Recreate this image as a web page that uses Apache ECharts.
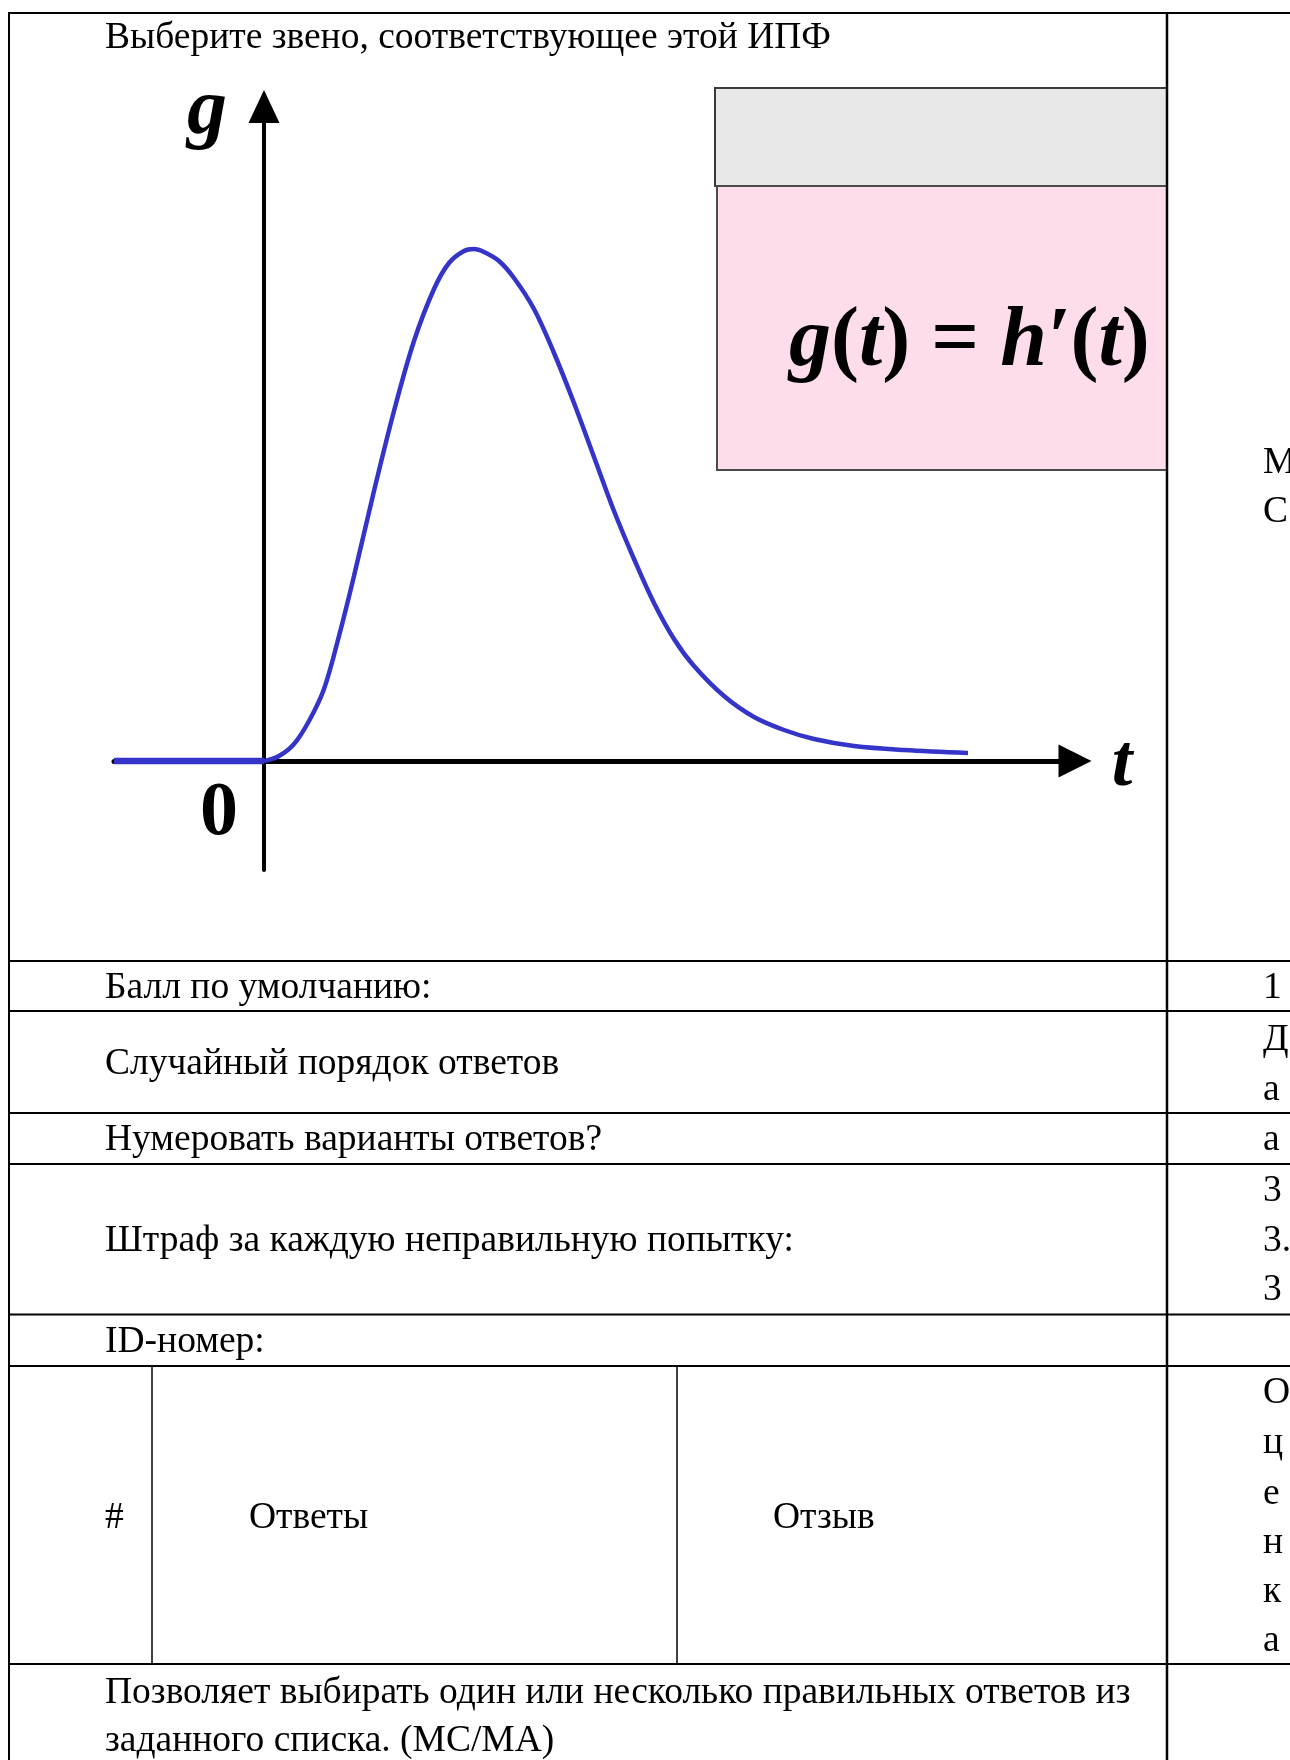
<!DOCTYPE html>
<html>
<head>
<meta charset="utf-8">
<script src="https://cdn.jsdelivr.net/npm/echarts@6/dist/echarts.min.js"></script>
<style>
  html, body { margin: 0; padding: 0; background: #ffffff; }
  #chart { width: 1290px; height: 1760px; }
</style>
</head>
<body>
<div id="chart"></div>
<script>
// ---- data (t, g) ----
const tNeg = [-1.5, 0];
const gNeg = [0, 0];
const tCurve = [0, 0.15, 0.3, 0.45, 0.6, 0.75, 0.9, 1.1, 1.3, 1.5, 1.7, 1.85, 2.0, 2.1, 2.2, 2.35, 2.5, 2.7, 2.9, 3.1, 3.3, 3.5, 3.7, 3.9, 4.1, 4.3, 4.6, 4.9, 5.2, 5.5, 5.9, 6.4, 7.04];
const gCurve = [0, 0.05, 0.17, 0.40, 0.72, 1.25, 1.85, 2.70, 3.50, 4.20, 4.72, 4.98, 5.10, 5.12, 5.09, 5.00, 4.83, 4.52, 4.08, 3.58, 3.04, 2.50, 2.02, 1.58, 1.22, 0.95, 0.65, 0.44, 0.31, 0.22, 0.15, 0.11, 0.08];

// ---- texts ----
const titleText = 'Выберите звено, соответствующее этой ИПФ';
const formulaText = '{i|g}{n|(}{i|t}{n|)}{n| = }{i|h′}{n|(}{i|t}{n|)}';
const rowLabels = ['Балл по умолчанию:', 'Случайный порядок ответов', 'Нумеровать варианты ответов?', 'Штраф за каждую неправильную попытку:', 'ID-номер:'];
const headerCells = ['#', 'Ответы', 'Отзыв'];
const footerLines = ['Позволяет выбирать один или несколько правильных ответов из', 'заданного списка. (MC/MA)'];
const rightChars = ['М', 'С', '1', 'Д', 'а', 'а', '3', '3.', '3', 'О', 'ц', 'е', 'н', 'к', 'а'];

// ---- layout ----
const rowLabelY = [988, 1064, 1140, 1241, 1342];
const rightY = [463, 512, 988, 1040, 1090, 1140, 1191, 1241, 1290, 1393, 1443, 1494, 1543, 1592, 1641];
const rowLinesY = [961, 1011, 1113, 1164, 1314.5, 1366, 1664];
const headerX = [105, 249, 773];
const footerY = [1693, 1741];

const FONT = '37.5px "Liberation Serif", "Times New Roman", serif';
const SERIF = '"Liberation Serif", "Times New Roman", serif';

const graphics = [];
function hline(y, x1, x2, w) {
  graphics.push({ type: 'line', silent: true, z: 10, shape: { x1: x1, y1: y, x2: x2, y2: y }, style: { stroke: '#000', lineWidth: w } });
}
function vline(x, y1, y2, w) {
  graphics.push({ type: 'line', silent: true, z: 10, shape: { x1: x, y1: y1, x2: x, y2: y2 }, style: { stroke: '#000', lineWidth: w } });
}
function text(str, x, y, font, align) {
  graphics.push({ type: 'text', silent: true, z: 12, x: x, y: y, style: { text: str, font: font, fill: '#000', align: align || 'left', verticalAlign: 'middle' } });
}

// formula boxes
graphics.push({ type: 'rect', silent: true, z: 5, shape: { x: 715, y: 88, width: 452, height: 98 }, style: { fill: '#e8e8e8', stroke: '#3a3a3a', lineWidth: 2 } });
graphics.push({ type: 'rect', silent: true, z: 5, shape: { x: 717, y: 186, width: 450, height: 284 }, style: { fill: '#fddcec', stroke: '#4a4a4a', lineWidth: 2 } });
graphics.push({
  type: 'text', silent: true, z: 6, x: 789, y: 343,
  style: {
    text: formulaText, fill: '#000', verticalAlign: 'middle', align: 'left',
    rich: {
      i: { font: 'italic bold 84px ' + SERIF, fill: '#000' },
      n: { font: 'bold 84px ' + SERIF, fill: '#000' }
    }
  }
});

// table lines
hline(13, 8, 1290, 2);
rowLinesY.forEach(function (y) { hline(y, 8, 1290, 2); });
vline(9, 12, 1760, 2);
vline(1167, 12, 1760, 2.5);
vline(152, 1366, 1664, 1.5);
vline(677, 1366, 1664, 1.5);

// table texts
text(titleText, 105, 38, FONT);
rowLabels.forEach(function (s, i) { text(s, 105, rowLabelY[i], FONT); });
headerCells.forEach(function (s, i) { text(s, headerX[i], 1518, FONT); });
footerLines.forEach(function (s, i) { text(s, 105, footerY[i], FONT); });
rightChars.forEach(function (s, i) { text(s, 1263, rightY[i], FONT); });

// axis labels
text('g', 207, 112, 'italic bold 80px ' + SERIF, 'center');
text('t', 1122, 766, 'italic bold 74px ' + SERIF, 'center');
text('0', 219, 814, 'bold 76px ' + SERIF, 'center');

const chart = echarts.init(document.getElementById('chart'), null, { renderer: 'canvas' });
chart.setOption({
  animation: false,
  backgroundColor: '#ffffff',
  grid: { left: 114, right: 215, top: 106.5, bottom: 890 },
  xAxis: {
    type: 'value', min: -1.5, max: 8.11,
    axisLine: { onZero: true, lineStyle: { color: '#000', width: 5 }, symbol: ['none', 'triangle'], symbolSize: [33, 33] },
    axisTick: { show: false }, axisLabel: { show: false }, splitLine: { show: false }
  },
  yAxis: {
    type: 'value', min: -1.09, max: 6.545,
    axisLine: { show: true, onZero: true, lineStyle: { color: '#000', width: 4 }, symbol: ['none', 'triangle'], symbolSize: [31, 33] },
    axisTick: { show: false }, axisLabel: { show: false }, splitLine: { show: false }
  },
  graphic: graphics,
  series: [
    {
      type: 'line', showSymbol: false, z: 3,
      data: tNeg.map(function (t, i) { return [t, gNeg[i]]; }),
      lineStyle: { color: '#3434c8', width: 6.5 }
    },
    {
      type: 'line', showSymbol: false, smooth: 0.35, z: 3,
      data: tCurve.map(function (t, i) { return [t, gCurve[i]]; }),
      lineStyle: { color: '#3434c8', width: 4.5 }
    }
  ]
});
</script>
</body>
</html>
